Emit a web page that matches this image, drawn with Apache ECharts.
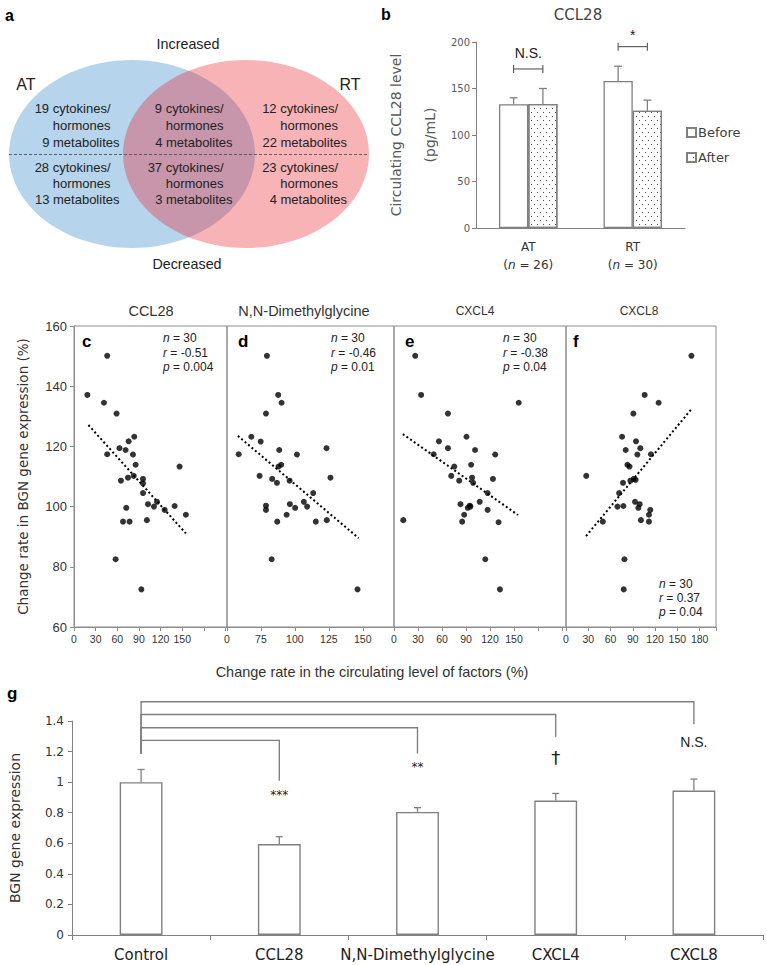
<!DOCTYPE html>
<html><head><meta charset="utf-8">
<script src="https://cdn.jsdelivr.net/npm/echarts@6/dist/echarts.min.js"></script>
<style>html,body{margin:0;padding:0;background:#fff}#c{width:767px;height:965px}</style>
</head><body><div id="c"></div>
<script>
// ---------- DATA ----------
// Panel a (Venn): [cytokines/hormones, metabolites] for AT only, both, RT only
const vennSets = ['AT', 'RT'];
const vennIncreased = [[19, 9], [9, 4], [12, 22]];
const vennDecreased = [[28, 13], [37, 3], [23, 4]];

// Panel b
const bCategories = ['AT', 'RT'];
const bN = [26, 30];
const bBefore = [133, 158];
const bBeforeErr = [7, 16];
const bAfter = [133.4, 126];
const bAfterErr = [16.6, 11.5];
const bSig = ['N.S.', '*'];
const bSigLevel = [171, 195];

// Panels c-f
const scatterTitles = ['CCL28', 'N,N-Dimethylglycine', 'CXCL4', 'CXCL8'];
const scatterLetters = ['c', 'd', 'e', 'f'];
const scatterN = [30, 30, 30, 30];
const scatterR = ['-0.51', '-0.46', '-0.38', '0.37'];
const scatterP = ['0.004', '0.01', '0.04', '0.04'];

const ccl28X = [18.5, 46, 41.5, 59, 46, 63, 71.5, 75.7, 83.5, 81.7, 85.4, 74.8, 82.7, 65, 95.6, 95.6, 95.6, 72.4, 102.5, 110.8, 115, 125.6, 139.4, 146.3, 155, 67.9, 77, 101, 57.7, 93.3];
const ccl28Y = [137.1, 150.1, 134.5, 130.9, 117.4, 119.4, 118.8, 121.7, 123.2, 117.3, 113.9, 109.6, 110.2, 108.6, 109.2, 107.7, 104.5, 99.6, 100.8, 100, 101.6, 98.9, 100.2, 113.3, 97.3, 95, 95, 95.5, 82.5, 72.5];
const dmgX = [79.4, 87.7, 90.2, 78.7, 67.9, 74.8, 58.6, 88.5, 101.5, 123.3, 89.9, 88, 74, 83.3, 86.8, 96.1, 126.2, 113.5, 78.7, 78.7, 96.3, 100.2, 106.6, 109, 93.9, 87, 115.4, 123.5, 82.9, 146.1];
const dmgY = [150.1, 137.1, 134.5, 130.9, 123.2, 121.6, 117.4, 118.8, 117.3, 119.4, 113.9, 113.3, 110.2, 109.2, 107.9, 108.6, 109.6, 104.5, 100.3, 98.9, 100.8, 99.6, 101.6, 100, 97.3, 95, 95, 95.5, 82.5, 72.5];
const cxcl4X = [26.5, 33.9, 155.9, 67.4, 90.6, 56.2, 67.4, 101.3, 49.6, 126.5, 96.4, 75.3, 71.6, 97.6, 81.5, 98.9, 123.7, 117, 83.1, 94.7, 92.2, 107.1, 87.7, 117, 85.2, 130.7, 11.6, 114.1, 132.4, 95.5];
const cxcl4Y = [150.1, 137.1, 134.5, 130.9, 123.2, 121.7, 119.4, 118.8, 117.4, 117.3, 113.9, 113.3, 110.2, 109.6, 108.6, 107.9, 109.2, 104.5, 100.8, 100.3, 99.6, 101.6, 97.3, 98.9, 95, 94.8, 95.5, 82.5, 72.5, 100];
const cxcl8X = [168.9, 105.9, 124.7, 90.7, 75.5, 94.3, 80.4, 100.1, 96.1, 114.4, 82.7, 85.4, 27.3, 91.2, 93.8, 86.7, 76.8, 71.5, 92.9, 99.2, 69.3, 77.3, 97.4, 113.5, 111.7, 49.6, 100.9, 111.7, 78.7, 77.7];
const cxcl8Y = [150.1, 137.1, 134.5, 130.9, 123.2, 121.7, 118.8, 119.4, 117.3, 117.4, 113.9, 113.3, 110.2, 109.2, 108.9, 108.6, 107.9, 104.5, 101.6, 100.8, 100, 100.2, 99.6, 98.9, 97.3, 95, 95.5, 95, 82.5, 72.5];

const trendCCL28 = [[20, 127.1], [155, 91.1]];
const trendDMG = [[58, 123.5], [147, 89.5]];
const trendCXCL4 = [[11, 124.1], [155, 97.2]];
const trendCXCL8 = [[27, 90.2], [170, 132.7]];

// x tick labels shown on each scatter panel (tick value -> label)
const ccl28TickVals = [0, 30, 60, 90, 120, 150];
const ccl28TickLabels = ['0', '30', '60', '90', '120', '150'];
const dmgTickVals = [50, 75, 100, 125, 150];
const dmgTickLabels = ['0', '75', '100', '125', '150'];
const cxcl4TickVals = [0, 30, 60, 90, 120, 150];
const cxcl4TickLabels = ['0', '30', '60', '90', '120', '150'];
const cxcl8TickVals = [0, 30, 60, 90, 120, 150, 180];
const cxcl8TickLabels = ['0', '30', '60', '90', '120', '150', '180'];

// Panel g
const gCategories = ['Control', 'CCL28', 'N,N-Dimethylglycine', 'CXCL4', 'CXCL8'];
const gValues = [1.0, 0.595, 0.805, 0.88, 0.945];
const gErr = [0.083, 0.048, 0.028, 0.046, 0.075];
const gSig = ['***', '**', '\u2020', 'N.S.'];
const gBracketTarget = [1, 2, 3, 4];
const gBracketLevel = [1.273, 1.356, 1.443, 1.526];
const gBracketDrop = [1.009, 1.188, 1.297, 1.378];
const gBracketStart = 1.188;

// ---------- STYLE / LAYOUT ----------
const ARIAL = '"Liberation Sans", Arial, sans-serif';
const VERD = '"DejaVu Sans", Verdana, sans-serif';
const GRAY = '#808080';
const B_BAR_PCT = 0.28;

const scatterSets = [
  {x: ccl28X, y: ccl28Y, trend: trendCCL28, tv: ccl28TickVals, tl: ccl28TickLabels, min: 0, max: 212, interval: 30, left: 74, width: 153},
  {x: dmgX, y: dmgY, trend: trendDMG, tv: dmgTickVals, tl: dmgTickLabels, min: 50, max: 173, interval: 25, left: 227, width: 167},
  {x: cxcl4X, y: cxcl4Y, trend: trendCXCL4, tv: cxcl4TickVals, tl: cxcl4TickLabels, min: 0, max: 215, interval: 30, left: 394, width: 172},
  {x: cxcl8X, y: cxcl8Y, trend: trendCXCL8, tv: cxcl8TickVals, tl: cxcl8TickLabels, min: 0, max: 202, interval: 30, left: 566, width: 150}
];
const titleFont = [14.5, 14.5, 12, 12];
const titleX = [151, 304, 475, 639];
const letterX = [82, 238, 405, 573];
const statX = [163, 331, 503, 659];
const statY = [[338, 352.5, 366.5], [338, 352.5, 366.5], [338, 352.5, 366.5], [583.5, 597.5, 611.5]];

const grids = [
  {left: 0, top: 0, width: 380, height: 280},              // venn
  {left: 476, top: 42, width: 209, height: 186},           // b
];
scatterSets.forEach(s => grids.push({left: s.left, top: 326, width: s.width, height: 301, show: true, borderColor: '#8c8c8c', borderWidth: 1}));
grids.push({left: 71, top: 721, width: 692, height: 214}); // g

const xAxes = [], yAxes = [], series = [];

// Venn grid
xAxes.push({gridIndex: 0, type: 'value', min: 0, max: 380, show: false});
yAxes.push({gridIndex: 0, type: 'value', min: 0, max: 280, inverse: true, show: false});
series.push({
  type: 'scatter', xAxisIndex: 0, yAxisIndex: 0, silent: true, symbol: 'circle',
  symbolSize: [246, 188],
  data: vennSets.map((s, i) => ({name: s, value: [i === 0 ? 132 : 246, 154],
    itemStyle: {color: i === 0 ? '#a5c9e8' : 'rgba(232,20,30,0.40)'}})),
  z: 1
});

// Panel b
xAxes.push({gridIndex: 1, type: 'category', data: bCategories,
  axisLine: {lineStyle: {color: GRAY, width: 1}}, axisTick: {show: false},
  axisLabel: {interval: 0, margin: 10, color: '#333', fontFamily: VERD, fontSize: 12, lineHeight: 18,
    formatter: (v, i) => '{t|' + v + '}\n{t|(}{i|n}{t| = ' + bN[i] + ')}',
    rich: {t: {fontFamily: VERD, fontSize: 12, color: '#333', lineHeight: 18}, i: {fontFamily: VERD, fontSize: 12, fontStyle: 'italic', color: '#333', lineHeight: 18}}}
});
yAxes.push({gridIndex: 1, type: 'value', min: 0, max: 200, interval: 50,
  axisLine: {show: true, lineStyle: {color: GRAY}}, axisTick: {show: true, length: 4, lineStyle: {color: GRAY}},
  splitLine: {show: false},
  axisLabel: {fontFamily: VERD, fontSize: 10, color: '#595959', margin: 6},
  name: 'Circulating CCL28 level\n(pg/mL)', nameLocation: 'middle', nameGap: 27,
  nameTextStyle: {fontFamily: VERD, fontSize: 14, color: '#595959', lineHeight: 34}
});
const barB = {color: '#fff', borderColor: GRAY, borderWidth: 1.3};
series.push({name: 'Before', type: 'bar', xAxisIndex: 1, yAxisIndex: 1, data: bBefore, barWidth: (B_BAR_PCT * 100) + '%', barGap: '0%', itemStyle: barB, silent: true});
series.push({name: 'After', type: 'bar', xAxisIndex: 1, yAxisIndex: 1, data: bAfter, barWidth: (B_BAR_PCT * 100) + '%', barGap: '0%', silent: true,
  itemStyle: Object.assign({}, barB, {decal: {symbol: 'rect', symbolSize: 1, color: '#555', backgroundColor: 'rgba(0,0,0,0)', dashArrayX: [[1, 5], [0, 3, 1, 2]], dashArrayY: [1, 3]}})});
// b error bars
const bErrData = [];
bCategories.forEach((c, i) => { bErrData.push([i, bBefore[i], bBeforeErr[i], -1]); bErrData.push([i, bAfter[i], bAfterErr[i], 1]); });
series.push({type: 'custom', xAxisIndex: 1, yAxisIndex: 1, clip: false, silent: true, z: 5, data: bErrData,
  renderItem(params, api) {
    const ci = api.value(0), v = api.value(1), e = api.value(2), side = api.value(3);
    const band = api.size([1, 0])[0];
    const base = api.coord([ci, v]);
    const x = base[0] + side * band * B_BAR_PCT / 2;
    const top = api.coord([ci, v + e])[1];
    const st = {stroke: GRAY, lineWidth: 1.3};
    return {type: 'group', children: [
      {type: 'line', shape: {x1: x, y1: base[1], x2: x, y2: top}, style: st},
      {type: 'line', shape: {x1: x - 4, y1: top, x2: x + 4, y2: top}, style: st}]};
  }});
// b significance brackets
const bSigGap = [9, 5];
series.push({type: 'custom', xAxisIndex: 1, yAxisIndex: 1, clip: false, silent: true, z: 5,
  data: bCategories.map((c, i) => [i, bSigLevel[i]]),
  renderItem(params, api) {
    const ci = api.value(0), lv = api.value(1);
    const band = api.size([1, 0])[0];
    const p = api.coord([ci, lv]);
    const x1 = p[0] - band * B_BAR_PCT / 2, x2 = p[0] + band * B_BAR_PCT / 2;
    const st = {stroke: '#555', lineWidth: 1.1};
    return {type: 'group', children: [
      {type: 'line', shape: {x1: x1, y1: p[1], x2: x2, y2: p[1]}, style: st},
      {type: 'line', shape: {x1: x1, y1: p[1] - 4, x2: x1, y2: p[1] + 4}, style: st},
      {type: 'line', shape: {x1: x2, y1: p[1] - 4, x2: x2, y2: p[1] + 4}, style: st},
      {type: 'text', style: {text: bSig[params.dataIndex], x: p[0], y: p[1] - bSigGap[params.dataIndex], textAlign: 'center', textVerticalAlign: 'bottom',
        fontFamily: ARIAL, fontSize: 14, fill: '#222'}}]};
  }});

// Panels c-f
scatterSets.forEach((s, k) => {
  const gi = 2 + k;
  xAxes.push({gridIndex: gi, type: 'value', min: s.min, max: s.max, interval: s.interval,
    axisLine: {show: true, onZero: false, lineStyle: {color: '#8c8c8c'}},
    axisTick: {show: true, length: 4, lineStyle: {color: '#8c8c8c'}},
    splitLine: {show: false}, showMinLabel: true, showMaxLabel: true,
    axisLabel: {fontFamily: ARIAL, fontSize: 10.5, color: '#333', margin: 6,
      formatter: v => { const j = s.tv.indexOf(v); return j >= 0 ? s.tl[j] : ''; }}
  });
  const ya = {gridIndex: gi, type: 'value', min: 60, max: 160, interval: 20, splitLine: {show: false}};
  if (k === 0) {
    Object.assign(ya, {axisLine: {show: true, lineStyle: {color: '#8c8c8c'}},
      axisTick: {show: true, length: 4, lineStyle: {color: '#8c8c8c'}},
      axisLabel: {fontFamily: ARIAL, fontSize: 13, color: '#333', margin: 7},
      name: 'Change rate in BGN gene expression (%)', nameLocation: 'middle', nameGap: 44,
      nameTextStyle: {fontFamily: VERD, fontSize: 13.5, color: '#333'}});
  } else {
    Object.assign(ya, {axisLine: {show: false}, axisTick: {show: false}, axisLabel: {show: false}});
  }
  yAxes.push(ya);
  series.push({type: 'scatter', xAxisIndex: gi, yAxisIndex: gi, symbolSize: 6, silent: true,
    itemStyle: {color: '#000'}, data: s.x.map((x, i) => [x, s.y[i]]), z: 3});
  series.push({type: 'line', xAxisIndex: gi, yAxisIndex: gi, data: s.trend, symbol: 'none', silent: true,
    lineStyle: {color: '#000', width: 2, type: [2, 2.5]}, z: 2});
});

// Panel g
xAxes.push({gridIndex: 6, type: 'category', data: gCategories,
  axisLine: {lineStyle: {color: GRAY}}, axisTick: {show: true, length: 5, lineStyle: {color: GRAY}},
  axisLabel: {interval: 0, fontFamily: VERD, fontSize: 15, color: '#222', margin: 12}});
yAxes.push({gridIndex: 6, type: 'value', min: 0, max: 1.4, interval: 0.2,
  axisLine: {show: true, lineStyle: {color: GRAY}}, axisTick: {show: true, length: 4, lineStyle: {color: GRAY}},
  splitLine: {show: false},
  axisLabel: {fontFamily: VERD, fontSize: 12, color: '#333', margin: 8},
  name: 'BGN gene expression', nameLocation: 'middle', nameGap: 50,
  nameTextStyle: {fontFamily: VERD, fontSize: 14, color: '#333'}});
series.push({type: 'bar', xAxisIndex: 6, yAxisIndex: 6, data: gValues, barWidth: '31%', silent: true,
  itemStyle: {color: '#fff', borderColor: GRAY, borderWidth: 1.4}});
series.push({type: 'custom', xAxisIndex: 6, yAxisIndex: 6, clip: false, silent: true, z: 5,
  data: gValues.map((v, i) => [i, v, gErr[i]]),
  renderItem(params, api) {
    const base = api.coord([api.value(0), api.value(1)]);
    const top = api.coord([api.value(0), api.value(1) + api.value(2)])[1];
    const st = {stroke: GRAY, lineWidth: 1.3};
    return {type: 'group', children: [
      {type: 'line', shape: {x1: base[0], y1: base[1], x2: base[0], y2: top}, style: st},
      {type: 'line', shape: {x1: base[0] - 3.5, y1: top, x2: base[0] + 3.5, y2: top}, style: st}]};
  }});
const gSigFont = [12, 12, 18, 14];
const gSigFamily = [VERD, VERD, VERD, ARIAL];
const gSigGap = [8, 8, 12, 11];
series.push({type: 'custom', xAxisIndex: 6, yAxisIndex: 6, clip: false, silent: true, z: 5,
  data: gBracketTarget.map((t, i) => [t, gBracketLevel[i], gBracketDrop[i]]),
  renderItem(params, api) {
    const i = params.dataIndex;
    const s0 = api.coord([0, gBracketStart]);
    const lv = api.coord([0, api.value(1)]);
    const end = api.coord([api.value(0), api.value(2)]);
    return {type: 'group', children: [
      {type: 'polyline', shape: {points: [[s0[0], s0[1]], [s0[0], lv[1]], [end[0], lv[1]], [end[0], end[1]]]},
        style: {stroke: GRAY, lineWidth: 1.4, fill: null}},
      {type: 'text', style: {text: gSig[i], x: end[0], y: end[1] + gSigGap[i], textAlign: 'center', textVerticalAlign: 'top',
        fontFamily: gSigFamily[i], fontSize: gSigFont[i], fill: '#222'}}]};
  }});

// ---------- free text ----------
const T = (text, x, y, o) => ({type: 'text', silent: true, z: 100, style: Object.assign({text, x, y, textAlign: 'center', textVerticalAlign: 'middle',
  fontFamily: ARIAL, fontSize: 14, fill: '#222'}, o || {})});
const graphics = [];
graphics.push(T('a', 5, 15, {textAlign: 'left', fontWeight: 'bold', fontSize: 16, fill: '#000'}));
graphics.push(T('b', 381, 14, {textAlign: 'left', fontWeight: 'bold', fontSize: 16, fill: '#000'}));
graphics.push(T('Increased', 188, 44, {fontSize: 14.3}));
graphics.push(T('Decreased', 187, 264, {fontSize: 14.3}));
graphics.push(T(vennSets[0], 26, 84, {fontSize: 16}));
graphics.push(T(vennSets[1], 350, 84, {fontSize: 16}));
graphics.push({type: 'line', silent: true, z: 100, shape: {x1: 9, y1: 154.5, x2: 368, y2: 154.5},
  style: {stroke: '#444', lineWidth: 0.8, lineDash: [3, 2]}});
const vennRight = [119.5, 232.5, 347];
[[vennIncreased, [108.5, 125.5, 142]], [vennDecreased, [167, 183, 199.5]]].forEach(([arr, ys]) => {
  arr.forEach((r, ri) => {
    const lines = [r[0] + ' cytokines/', 'hormones', r[1] + ' metabolites'];
    const rights = [vennRight[ri] - 9, vennRight[ri] - 9, vennRight[ri]];
    lines.forEach((ln, li) => graphics.push(T(ln, rights[li], ys[li], {textAlign: 'right', fontSize: 13})));
  });
});
graphics.push(T('CCL28', 578, 15, {fontFamily: VERD, fontSize: 15, fill: '#444'}));
scatterSets.forEach((s, k) => {
  graphics.push(T(scatterTitles[k], titleX[k], 311, {fontSize: titleFont[k], fill: '#333'}));
  graphics.push(T(scatterLetters[k], letterX[k], 341, {textAlign: 'left', fontWeight: 'bold', fontSize: 17, fill: '#000'}));
  const rich = {i: {fontStyle: 'italic', fontFamily: ARIAL, fontSize: 12, fill: '#222'}, t: {fontFamily: ARIAL, fontSize: 12, fill: '#222'}};
  const sl = ['{i|n}{t| = ' + scatterN[k] + '}', '{i|r}{t| = ' + scatterR[k] + '}', '{i|p}{t| = ' + scatterP[k] + '}'];
  sl.forEach((t, j) => graphics.push(T(t, statX[k], statY[k][j], {textAlign: 'left', fontSize: 12, rich})));
});
graphics.push(T('Change rate in the circulating level of factors (%)', 372, 672, {fontSize: 14.5, fill: '#333'}));
graphics.push(T('g', 7, 693, {textAlign: 'left', fontWeight: 'bold', fontSize: 17, fill: '#000'}));

const option = {
  animation: false,
  backgroundColor: '#fff',
  grid: grids, xAxis: xAxes, yAxis: yAxes, series,
  legend: {data: ['Before', 'After'], orient: 'vertical', left: 686, top: 126, padding: 0,
    itemWidth: 9, itemHeight: 9, itemGap: 12, icon: 'rect', selectedMode: false,
    textStyle: {fontFamily: VERD, fontSize: 13, color: '#404040', padding: [0, 0, 0, -3]}},
  graphic: {elements: graphics}
};
const chart = echarts.init(document.getElementById('c'), null, {renderer: 'svg', width: 767, height: 965});
chart.setOption(option);
</script></body></html>
